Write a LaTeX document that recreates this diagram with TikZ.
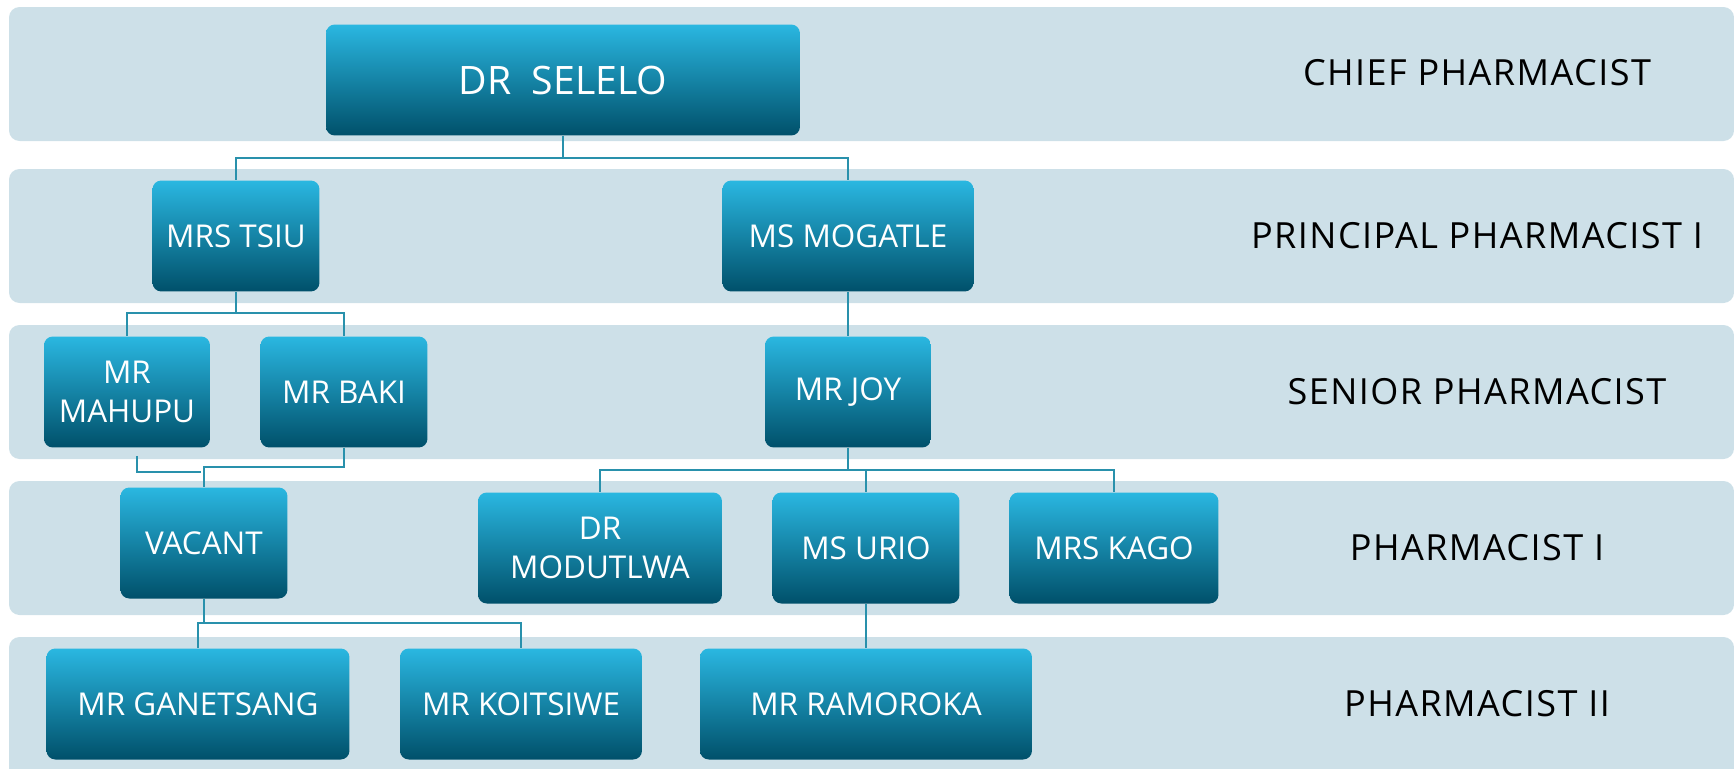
\documentclass[tikz,border=0pt]{standalone}
\usepackage{fontspec}
\setmainfont{Open Sans}
\newfontfamily\gradefont[LetterSpace=4]{Open Sans}
\usetikzlibrary{positioning}
\definecolor{band1}{RGB}{205,224,232}
\definecolor{boxtop}{RGB}{42,183,225}
\definecolor{boxmid}{RGB}{6,137,174}
\definecolor{boxbot}{RGB}{0,80,106}
\definecolor{link1}{RGB}{41,145,172}
\def\boxh{2.22cm}

\tikzset{
	staff/.style={rounded corners=5pt,top color=boxtop,middle color=boxmid,bottom color=boxbot,
		text=white,align=center,minimum height=\boxh,inner sep=0pt,font=\fontsize{17.9}{22.5}\selectfont},
	grade/.style={text=black,font=\gradefont\fontsize{20.5}{24}\selectfont},
	link/.style={draw=link1,line width=1.4pt}
}

\begin{document}
\begin{tikzpicture}[x=0.02cm,y=-0.02cm]

	\useasboundingbox (0,0) rectangle (1734,768);

	%%% Grade bands
	\fill[band1,rounded corners=6pt] (9,7) rectangle (1734,141);
	\fill[band1,rounded corners=6pt] (9,169) rectangle (1734,303);
	\fill[band1,rounded corners=6pt] (9,325) rectangle (1734,459);
	\fill[band1,rounded corners=6pt] (9,481) rectangle (1734,615);
	\fill[band1,rounded corners=6pt] (9,637) rectangle (1734,790);

	%%% Grade names
	\node[grade] (chief) at (1477,73) {CHIEF PHARMACIST};
	\node[grade] (principal) at (1477,236) {PRINCIPAL PHARMACIST I};
	\node[grade] (senior) at (1477,392) {SENIOR PHARMACIST};
	\node[grade] (pharmone) at (1477,548) {PHARMACIST I};
	\node[grade] (pharmtwo) at (1477,704) {PHARMACIST II};

	%%% Staff boxes
	\node[staff,minimum width=9.48cm,font=\fontsize{22.3}{26}\selectfont] (selelo) at (563,80) {DR\ \ SELELO};
	\node[staff,minimum width=3.34cm] (tsiu) at (236,236) {MRS TSIU};
	\node[staff,minimum width=5.02cm] (mogatle) at (848,236) {MS MOGATLE};
	\node[staff,minimum width=3.32cm] (mahupu) at (127,392) {MR\\MAHUPU};
	\node[staff,minimum width=3.34cm] (baki) at (344,392) {MR BAKI};
	\node[staff,minimum width=3.32cm] (joy) at (848,392) {MR JOY};
	\node[staff,minimum width=3.34cm] (vacant) at (204,543) {VACANT};
	\node[staff,minimum width=4.88cm] (modutlwa) at (600,548) {DR\\MODUTLWA};
	\node[staff,minimum width=3.74cm] (urio) at (866,548) {MS URIO};
	\node[staff,minimum width=4.18cm] (kago) at (1114,548) {MRS KAGO};
	\node[staff,minimum width=6.06cm] (ganetsang) at (198,704) {MR GANETSANG};
	\node[staff,minimum width=4.84cm] (koitsiwe) at (521,704) {MR KOITSIWE};
	\node[staff,minimum width=6.64cm] (ramoroka) at (866,704) {MR RAMOROKA};

	%%% Reporting lines
	\draw[link] (selelo.south) -- ++(0,22) -| (tsiu.north);
	\draw[link] (selelo.south) -- ++(0,22) -| (mogatle.north);
	\draw[link] (tsiu.south) -- ++(0,21) -| (mahupu.north);
	\draw[link] (tsiu.south) -- ++(0,21) -| (baki.north);
	\draw[link] (mogatle.south) -- (joy.north);
	\draw[link] (joy.south) -- ++(0,22) -| (modutlwa.north);
	\draw[link] (joy.south) -- ++(0,22) -| (urio.north);
	\draw[link] (joy.south) -- ++(0,22) -| (kago.north);
	\draw[link] (baki.south) -- ++(0,19) -| (vacant.north);
	\draw[link] ([shift={(10,8)}]mahupu.south) -- ++(0,16) -- ++(64,0);
	\draw[link] (vacant.south) -- ++(0,24) -| (ganetsang.north);
	\draw[link] (vacant.south) -- ++(0,24) -| (koitsiwe.north);
	\draw[link] (urio.south) -- (ramoroka.north);

\end{tikzpicture}
\end{document}
